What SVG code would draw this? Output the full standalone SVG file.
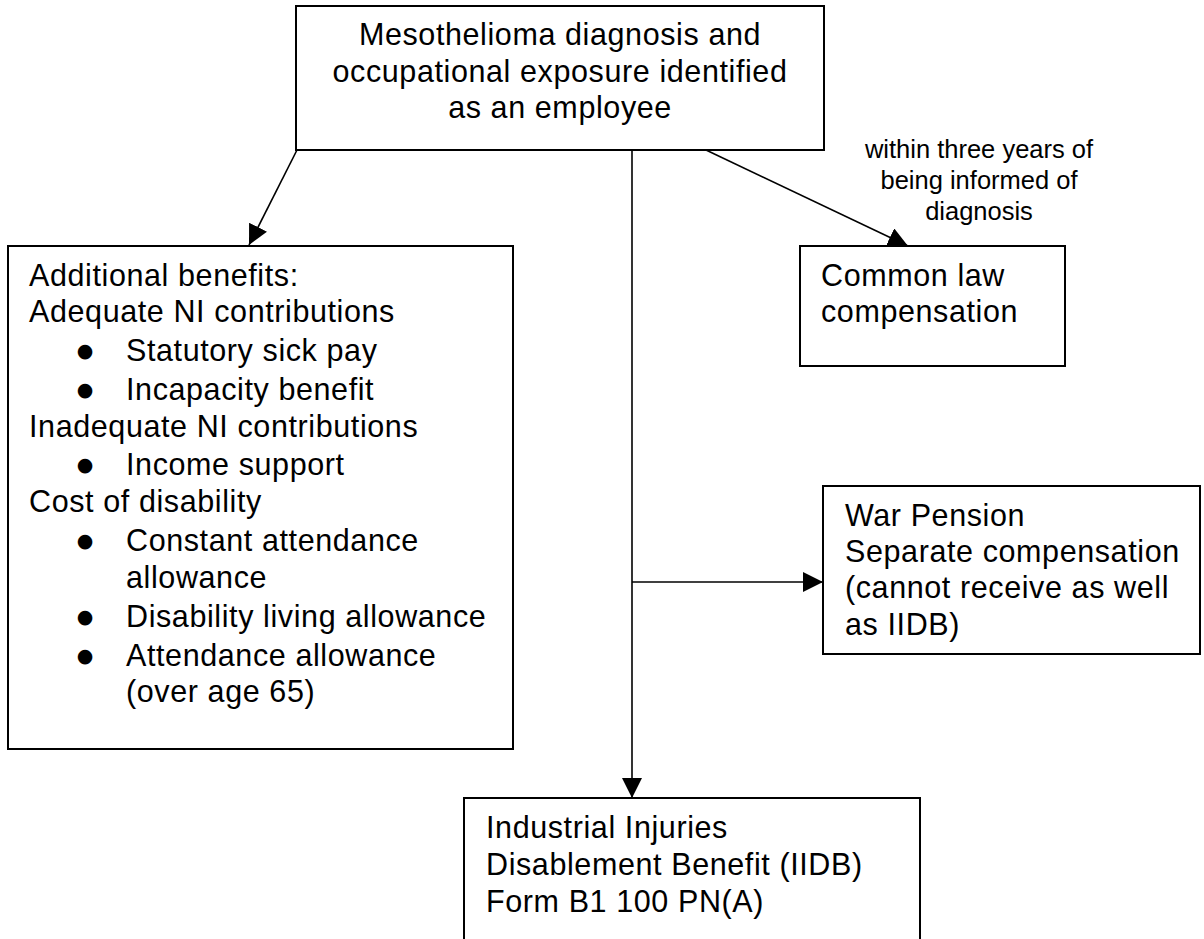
<svg xmlns="http://www.w3.org/2000/svg" width="1204" height="939" viewBox="0 0 1204 939">
  <style>
    .box { fill: #ffffff; stroke: #000000; stroke-width: 2; }
    .t { font-family: "Liberation Sans", Arial, sans-serif; font-size: 30.5px; letter-spacing: 0.6px; fill: #000000; }
    .c { text-anchor: middle; }
    .b { font-family: "DejaVu Sans", sans-serif; font-size: 19px; fill: #000000; text-anchor: middle; }
    .lbl { font-family: "Liberation Sans", Arial, sans-serif; font-size: 25.5px; fill: #000000; text-anchor: middle; }
    .conn { fill: none; stroke: #000000; stroke-width: 1.6; }
  </style>
  <defs>
    <marker id="arrow" markerUnits="userSpaceOnUse" markerWidth="22" markerHeight="22" refX="20" refY="10" orient="auto">
      <path d="M0,0 L20,10 L0,20 Z" fill="#000000"/>
    </marker>
  </defs>
  <rect x="0" y="0" width="1204" height="939" fill="#ffffff"/>

  <g id="connectors">
    <line class="conn" x1="297" y1="150" x2="249" y2="245" marker-end="url(#arrow)"/>
    <line class="conn" x1="706" y1="150" x2="908" y2="246" marker-end="url(#arrow)"/>
    <line class="conn" x1="632" y1="150" x2="632" y2="798" marker-end="url(#arrow)"/>
    <line class="conn" x1="632" y1="582" x2="823" y2="582" marker-end="url(#arrow)"/>
    <text class="lbl" x="979" y="158">within three years of</text>
    <text class="lbl" x="979" y="189">being informed of</text>
    <text class="lbl" x="979" y="220">diagnosis</text>
  </g>

  <g id="node-diagnosis">
    <rect class="box" x="296" y="6" width="528" height="144"/>
    <text class="t c" x="560" y="45">Mesothelioma diagnosis and</text>
    <text class="t c" x="560" y="82">occupational exposure identified</text>
    <text class="t c" x="560" y="118">as an employee</text>
  </g>

  <g id="node-additional">
    <rect class="box" x="8" y="246" width="505" height="503"/>
    <text class="t" x="29" y="286">Additional benefits:</text>
    <text class="t" x="29" y="322">Adequate NI contributions</text>
    <text class="b" x="85" y="357">●</text>
    <text class="t" x="126" y="361">Statutory sick pay</text>
    <text class="b" x="85" y="396">●</text>
    <text class="t" x="126" y="400">Incapacity benefit</text>
    <text class="t" x="29" y="437">Inadequate NI contributions</text>
    <text class="b" x="85" y="471">●</text>
    <text class="t" x="126" y="475">Income support</text>
    <text class="t" x="29" y="512">Cost of disability</text>
    <text class="b" x="85" y="547">●</text>
    <text class="t" x="126" y="551">Constant attendance</text>
    <text class="t" x="126" y="588">allowance</text>
    <text class="b" x="85" y="623">●</text>
    <text class="t" x="126" y="627">Disability living allowance</text>
    <text class="b" x="85" y="662">●</text>
    <text class="t" x="126" y="666">Attendance allowance</text>
    <text class="t" x="126" y="702">(over age 65)</text>
  </g>

  <g id="node-common-law">
    <rect class="box" x="800" y="246" width="265" height="120"/>
    <text class="t" x="821" y="286">Common law</text>
    <text class="t" x="821" y="322">compensation</text>
  </g>

  <g id="node-war-pension">
    <rect class="box" x="823" y="486" width="377" height="168"/>
    <text class="t" x="845" y="526">War Pension</text>
    <text class="t" x="845" y="562">Separate compensation</text>
    <text class="t" x="845" y="598">(cannot receive as well</text>
    <text class="t" x="845" y="635">as IIDB)</text>
  </g>

  <g id="node-iidb">
    <rect class="box" x="464" y="798" width="456" height="160"/>
    <text class="t" x="486" y="838">Industrial Injuries</text>
    <text class="t" x="486" y="875">Disablement Benefit (IIDB)</text>
    <text class="t" x="486" y="912">Form B1 100 PN(A)</text>
  </g>
</svg>
